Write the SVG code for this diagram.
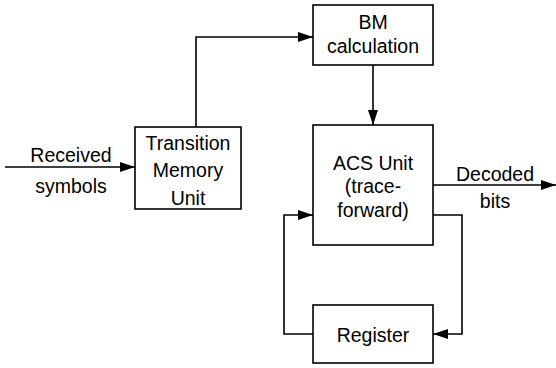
<svg xmlns="http://www.w3.org/2000/svg" width="556" height="368" viewBox="0 0 556 368">
<style>
.box{fill:#fff;stroke:#000;stroke-width:1.6}
.t{font-family:"Liberation Sans",Arial,sans-serif;font-size:19.5px;fill:#000;text-anchor:middle}
.c{fill:none;stroke:#000;stroke-width:1.6}
</style>
<defs>
<marker id="ah" viewBox="0 0 15 10" refX="15" refY="5" markerWidth="15" markerHeight="10" markerUnits="userSpaceOnUse" orient="auto">
<path d="M0,0 L15,5 L0,10 Z" fill="#000"/>
</marker>
</defs>
<g id="connectors">
<path class="c" d="M5,167 H135" marker-end="url(#ah)"/>
<path class="c" d="M196,127 V37 H313" marker-end="url(#ah)"/>
<path class="c" d="M373,65 V125" marker-end="url(#ah)"/>
<path class="c" d="M433,185 H556" marker-end="url(#ah)"/>
<path class="c" d="M433,215 H462 V334 H433" marker-end="url(#ah)"/>
<path class="c" d="M313,334 H284 V215 H313" marker-end="url(#ah)"/>
</g>
<g id="label-received">
<text class="t" x="71" y="162">Received</text>
<text class="t" x="71" y="193">symbols</text>
</g>
<g id="label-decoded">
<text class="t" x="495" y="181">Decoded</text>
<text class="t" x="495" y="208">bits</text>
</g>
<g id="tmu">
<rect class="box" x="135" y="127" width="106" height="82"/>
<text class="t" x="188" y="150">Transition</text>
<text class="t" x="188" y="177">Memory</text>
<text class="t" x="188" y="205">Unit</text>
</g>
<g id="bm">
<rect class="box" x="313" y="5" width="120" height="60"/>
<text class="t" x="373" y="29">BM</text>
<text class="t" x="373" y="53">calculation</text>
</g>
<g id="acs">
<rect class="box" x="313" y="125" width="120" height="120"/>
<text class="t" x="373" y="170">ACS Unit</text>
<text class="t" x="373" y="193">(trace-</text>
<text class="t" x="373" y="217">forward)</text>
</g>
<g id="register">
<rect class="box" x="313" y="305" width="120" height="58"/>
<text class="t" x="373" y="342">Register</text>
</g>
</svg>
